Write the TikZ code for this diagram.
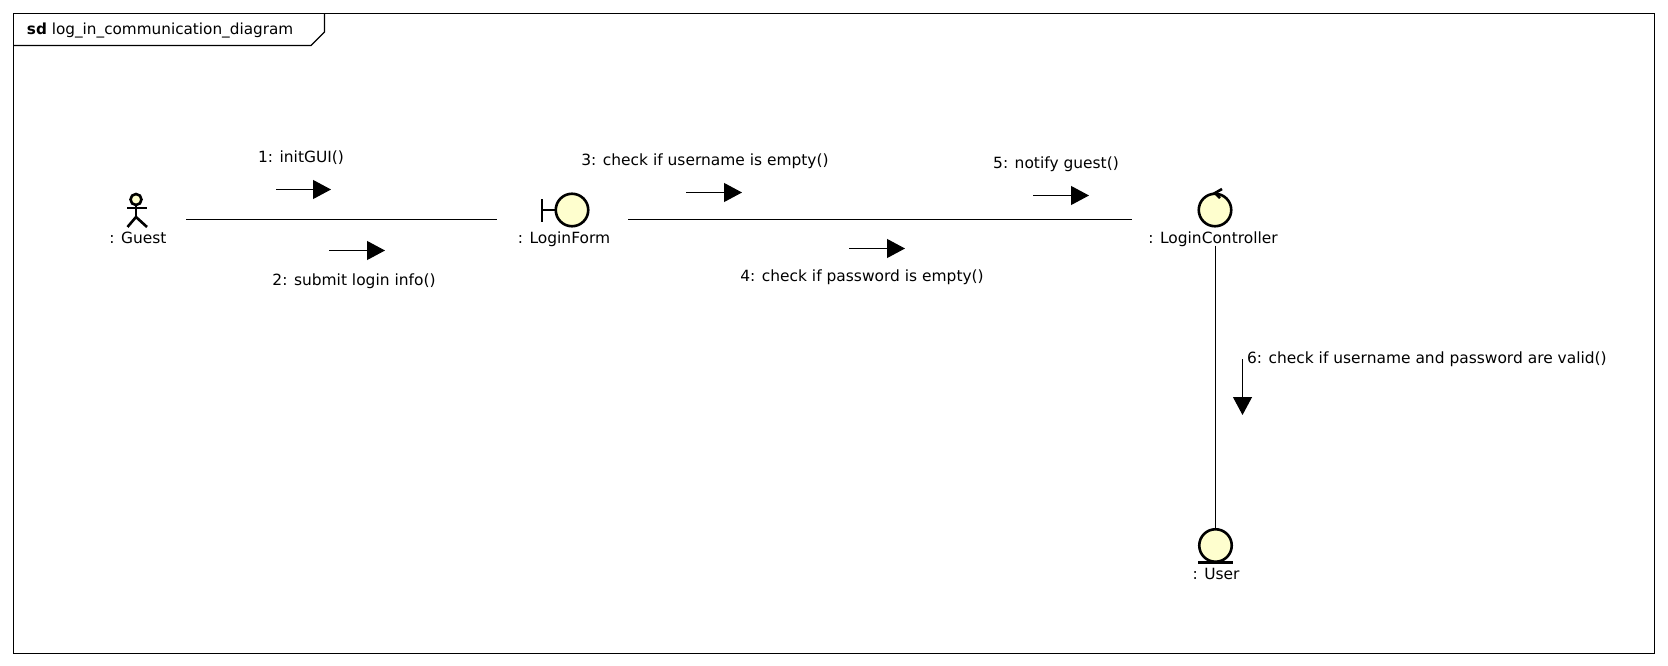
\documentclass[tikz,border=0pt]{standalone}
\usepackage{fontspec}
\setmainfont{DejaVu Sans}
\usetikzlibrary{arrows.meta}
\definecolor{iconfill}{HTML}{FEFECE}
\tikzset{
  x=1pt,y=-1pt,
  every node/.style={inner sep=0pt,outer sep=0pt},
  txt/.style={font=\fontsize{15.45}{18}\selectfont,text=black,anchor=center},
  titletxt/.style={font=\fontsize{15.25}{18}\selectfont,text=black,anchor=west},
  link/.style={line width=1.1pt,draw=black},
  msg/.style={line width=1.1pt,draw=black,-{Triangle[length=18pt,width=19pt]}},
  icon/.style={circle,draw=black,fill=iconfill,line width=2.6pt,minimum size=32.5pt},
  stroke/.style={line width=2.6pt,draw=black},
  frame/.style={line width=1.1pt,draw=black}
}
\begin{document}
\begin{tikzpicture}
\useasboundingbox (0,0) rectangle (1668,666);
% frame
\draw[frame] (13.5,13.5) rectangle (1654.5,653.5);
\draw[frame] (13.5,45.5) -- (311,45.5) -- (324.5,32) -- (324.5,13.5);
\node[titletxt] (title) at (27,30.5) {\textbf{sd} log\_in\_communication\_diagram};
% actor
\node[circle,draw=black,fill=iconfill,line width=2.6pt,minimum size=11pt] (guest) at (136,199.5) {};
\coordinate (hip) at (136,217);
\draw[stroke] (guest.south) -- (hip);
\draw[stroke] (127,208) -- (147,208);
\draw[stroke] (127.5,227) -- (hip) -- (147,227);
\node[txt] (guestL) at (138,237.5) {: Guest};
% boundary
\node[icon] (form) at (572,210) {};
\draw[stroke] (form.west) -- (542,210);
\draw[stroke] (542,199) -- (542,222);
\node[txt] (formL) at (564,239.5) {: LoginForm};
% controller
\node[icon] (ctrl) at (1215,210) {};
\draw[stroke] (1222,189) -- (1215,193) -- (1220,198);
\node[txt] (ctrlL) at (1213,239.5) {: LoginController};
% entity
\node[icon] (user) at (1215.5,545.5) {};
\draw[stroke] (1198,562.5) -- (1233,562.5);
\node[txt] (userL) at (1216,573.5) {: User};
% links
\coordinate (a1) at (186,219.5); \coordinate (a2) at (497,219.5);
\coordinate (b1) at (628,219.5); \coordinate (b2) at (1132,219.5);
\coordinate (c1) at (1215.5,245.5);
\draw[link] (a1) -- (a2);
\draw[link] (b1) -- (b2);
\draw[link] (c1) -- (user.north);
% messages
\coordinate (m1s) at (276,189.5); \coordinate (m1e) at (331,189.5);
\coordinate (m2s) at (329,250.5); \coordinate (m2e) at (385,250.5);
\coordinate (m3s) at (686,192.5); \coordinate (m3e) at (742,192.5);
\coordinate (m4s) at (849,248.5); \coordinate (m4e) at (905,248.5);
\coordinate (m5s) at (1033,195.5); \coordinate (m5e) at (1089,195.5);
\coordinate (m6s) at (1242.5,359); \coordinate (m6e) at (1242.5,415);
\draw[msg] (m1s) -- (m1e);
\draw[msg] (m2s) -- (m2e);
\draw[msg] (m3s) -- (m3e);
\draw[msg] (m4s) -- (m4e);
\draw[msg] (m5s) -- (m5e);
\draw[msg] (m6s) -- (m6e);
\node[txt] (l1) at (301,158) {1: initGUI()};
\node[txt] (l2) at (354,281) {2: submit login info()};
\node[txt] (l3) at (705,161.5) {3: check if username is empty()};
\node[txt] (l4) at (862,277.5) {4: check if password is empty()};
\node[txt] (l5) at (1056,164.5) {5: notify guest()};
\node[txt,anchor=west] (l6) at (1247,359.5) {6: check if username and password are valid()};
\end{tikzpicture}
\end{document}
